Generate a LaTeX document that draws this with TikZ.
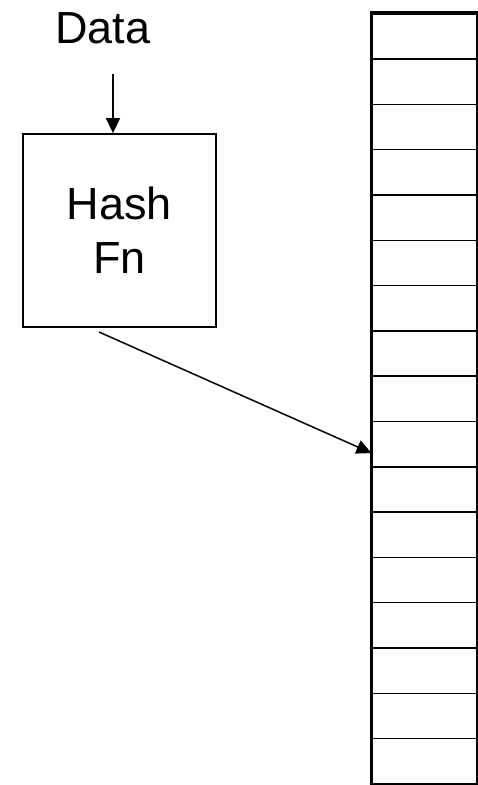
\documentclass[tikz,border=0pt]{standalone}
\usepackage{fontspec}
\setmainfont{Liberation Sans}
\usetikzlibrary{arrows.meta,positioning,calc}
\tikzset{
	bigtext/.style={font=\fontsize{45pt}{54pt}\selectfont},
	slot/.style={draw, line width=1.5pt, minimum width=104.5pt, minimum height=45.3pt, inner sep=0pt, anchor=north west},
	ptr/.style={line width=1.5pt, -{Triangle[length=15pt,width=14pt]}}
}

\begin{document}
\begin{tikzpicture}[x=1pt, y=-1pt]

		\useasboundingbox (0,0) rectangle (477,785);

		% input and hash box
		\node[bigtext, anchor=base] (data) at (103,43) {Data};
		\node[bigtext, draw, line width=1.8pt, minimum width=193pt, minimum height=193pt, align=center] (hashfn) at (119.5,230.5) {Hash\\Fn};
		\coordinate (datain) at (113,74);
		\draw[ptr] (datain) -- (datain |- hashfn.north);

		% table of buckets
		\foreach \i in {1,...,17} {
			\node[slot] (cell\i) at (371.5,{13+(\i-1)*45.3}) {};
		}
		\draw[line width=3.5pt] (cell1.north east) -- (cell1.north west) -- (cell17.south west);

		% hashed value points into the table
		\coordinate (hout) at (99,332);
		\coordinate (hit) at ($(cell10.west)+(0,9)$);
		\draw[ptr] (hout) -- (hit);

\end{tikzpicture}
\end{document}
